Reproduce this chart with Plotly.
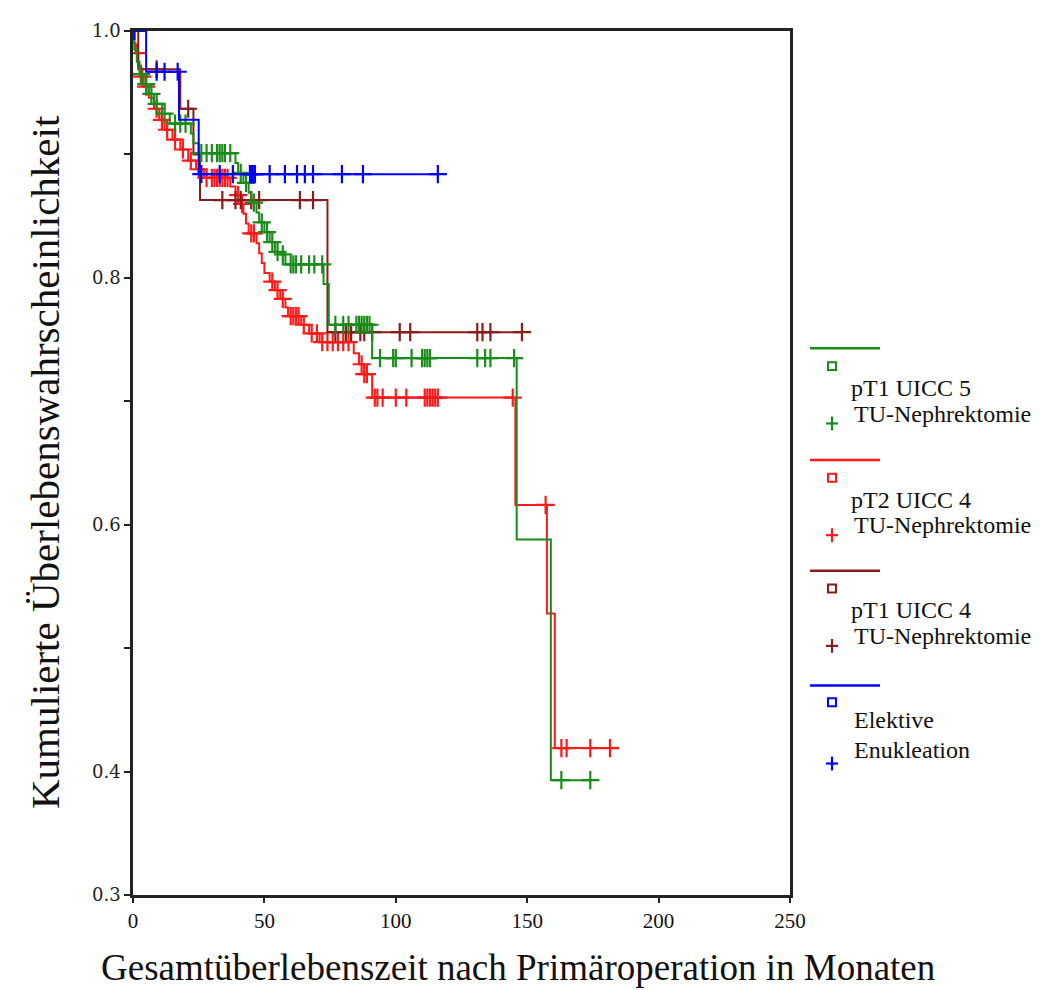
import plotly.graph_objects as go

# ---------------- data ----------------
series_names = ["pT1 UICC 5 TU-Nephrektomie", "pT2 UICC 4 TU-Nephrektomie",
                "pT1 UICC 4 TU-Nephrektomie", "Elektive Enukleation"]

green_event_t = [0.5, 1.5, 2.5, 4, 6, 8, 11, 14, 22, 23, 25, 39, 40, 42, 44, 45, 47, 48,
                 50, 52, 54, 56, 58, 72.5, 74.5, 91, 146, 159]
green_event_s = [0.985, 0.975, 0.965, 0.957, 0.949, 0.941, 0.933, 0.925, 0.917, 0.909,
                 0.901, 0.893, 0.885, 0.877, 0.869, 0.861, 0.853, 0.845, 0.837, 0.829,
                 0.821, 0.819, 0.811, 0.795, 0.762, 0.735, 0.588, 0.393]
green_censor_t = [3, 5, 7, 9, 12, 16, 18, 20, 26, 28, 30, 32, 33, 34, 35, 37, 41, 43, 46,
                  49, 51, 53, 55, 57, 60, 61, 62, 64, 67, 69, 72, 77, 80, 82, 85, 86, 87,
                  88, 89, 90, 94, 99, 100, 106, 110, 111, 112, 113, 131, 134, 136, 145,
                  163, 174]

red_event_t = [0.5, 1, 2, 3, 4, 6, 8, 10, 12, 15, 18, 21, 24, 27, 37, 39, 41, 42, 43, 44,
               47, 48, 49, 50, 52, 54, 56, 58, 59, 64, 67, 71, 84, 86, 88, 91, 145.5,
               157.5, 160.5]
red_event_s = [0.99, 0.982, 0.972, 0.963, 0.955, 0.946, 0.937, 0.928, 0.92, 0.912, 0.904,
               0.895, 0.888, 0.881, 0.874, 0.867, 0.86, 0.852, 0.844, 0.836, 0.828, 0.82,
               0.812, 0.804, 0.797, 0.79, 0.783, 0.776, 0.769, 0.762, 0.755, 0.748,
               0.739, 0.73, 0.722, 0.703, 0.616, 0.528, 0.419]
red_censor_t = [1.5, 3.5, 5, 9, 11, 13, 16, 19, 22, 25, 28, 30, 31, 32, 33, 34, 35, 36,
                40, 41.5, 45, 46, 53, 55, 57, 60, 61, 62, 63, 65, 68, 70, 72, 74, 76, 78,
                80, 82, 87, 88, 89, 92, 93, 95, 100, 104, 111, 112, 113, 114, 115, 116,
                144.5, 157, 163, 165, 174, 181.5]

dred_event_t = [2, 18, 23, 25.5, 74]
dred_event_s = [0.969, 0.937, 0.90, 0.863, 0.756]
dred_censor_t = [9, 21, 34, 39, 41, 45, 48, 63.5, 68.5, 77, 81, 83, 86.5, 88, 91, 101.5,
                 105.5, 131, 133, 136, 148]

blue_event_t = [5, 17.5, 25]
blue_event_s = [0.967, 0.928, 0.884]
blue_censor_t = [0.5, 9, 12, 17, 26, 33, 38, 44.5, 45.2, 45.8, 46.4, 52, 57.8, 62.4,
                 65.4, 68.5, 79.5, 87.5, 116]

x_ticks = [0, 50, 100, 150, 200, 250]
y_ticks = [0.3, 0.4, 0.5, 0.6, 0.7, 0.8, 0.9, 1.0]
y_tick_labels = ["0.3", "0.4", "", "0.6", "", "0.8", "", "1.0"]

legend_line1 = ["pT1 UICC 5", "pT2 UICC 4", "pT1 UICC 4", "Elektive"]
legend_line2 = ["TU-Nephrektomie", "TU-Nephrektomie", "TU-Nephrektomie", "Enukleation"]

x_title = "Gesamtüberlebenszeit nach Primäroperation in Monaten"
y_title = "Kumulierte Überlebenswahrscheinlichkeit"

colors = ["#1a8c1a", "#ff1a1a", "#8b1c1c", "#0000ff"]

# ---------------- layout geometry ----------------
OFF = 8  # page body margin in the browser
W, H = 1041 - OFF, 990 - OFF
L, R, T, B = 133 - OFF, 790 - OFF, 21 - OFF, 895 - OFF


def px2x(px):
    return (px - OFF - L) / (R - L)


def py2y(py):
    return (B - (py - OFF)) / (B - T)


def surv_at(t, ev_t, ev_s):
    s = 1.0
    for et, es in zip(ev_t, ev_s):
        if et <= t:
            s = es
    return s


fig = go.Figure()

groups = [
    (green_event_t, green_event_s, green_censor_t),
    (red_event_t, red_event_s, red_censor_t),
    (dred_event_t, dred_event_s, dred_censor_t),
    (blue_event_t, blue_event_s, blue_censor_t),
]
draw_order = [1, 2, 0, 3]
for gi in draw_order:
    ev_t, ev_s, c_t = groups[gi]
    col = colors[gi]
    t_end = max(max(c_t), max(ev_t))
    xs = [0] + list(ev_t) + [t_end]
    ys = [1.0] + list(ev_s) + [ev_s[-1]]
    fig.add_trace(go.Scatter(x=xs, y=ys, mode="lines", line=dict(color=col, width=2, shape="hv"),
                             name=series_names[gi], showlegend=False, hoverinfo="skip"))
    cy = [surv_at(t, ev_t, ev_s) for t in c_t]
    fig.add_trace(go.Scatter(x=c_t, y=cy, mode="markers",
                             marker=dict(symbol="cross-thin", size=13,
                                         line=dict(color=col, width=2.2), color=col),
                             showlegend=False, hoverinfo="skip"))

# ---------------- custom legend (outside plot area) ----------------
shapes = []
annotations = []
leg_base = [342, 455, 567, 683]
for i, base in enumerate(leg_base):
    col = colors[i]
    shapes.append(dict(type="line", xref="paper", yref="paper",
                       x0=px2x(810), x1=px2x(880), y0=py2y(base), y1=py2y(base),
                       line=dict(color=col, width=2.5)))
    sq = base + 18 if i < 3 else base + 17
    shapes.append(dict(type="rect", xref="paper", yref="paper",
                       x0=px2x(828), x1=px2x(836), y0=py2y(sq + 4), y1=py2y(sq - 4),
                       line=dict(color=col, width=2)))
    pl = base + 76 if i < 3 else base + 79
    shapes.append(dict(type="line", xref="paper", yref="paper",
                       x0=px2x(826), x1=px2x(838), y0=py2y(pl), y1=py2y(pl),
                       line=dict(color=col, width=2.2)))
    shapes.append(dict(type="line", xref="paper", yref="paper",
                       x0=px2x(832), x1=px2x(832), y0=py2y(pl - 7), y1=py2y(pl + 7),
                       line=dict(color=col, width=2.2)))
    if i < 3:
        t1y, t2y, tx1, tx2 = base + 40, base + 66, 849, 852
    else:
        t1y, t2y, tx1, tx2 = base + 35, base + 65, 852, 852
    annotations.append(dict(text=legend_line1[i], xref="paper", yref="paper",
                            x=px2x(tx1), y=py2y(t1y), xanchor="left", yanchor="middle",
                            showarrow=False, font=dict(family="Liberation Serif", size=24, color="#111")))
    annotations.append(dict(text=legend_line2[i], xref="paper", yref="paper",
                            x=px2x(tx2), y=py2y(t2y), xanchor="left", yanchor="middle",
                            showarrow=False, font=dict(family="Liberation Serif", size=24, color="#111")))

# axis titles
annotations.append(dict(text=x_title, xref="paper", yref="paper", x=px2x(518), y=py2y(968),
                        xanchor="center", yanchor="middle", showarrow=False,
                        font=dict(family="Liberation Serif", size=37, color="#111")))
annotations.append(dict(text=y_title, xref="paper", yref="paper", x=px2x(45), y=py2y(457),
                        xanchor="center", yanchor="middle", textangle=-90, showarrow=False,
                        font=dict(family="Liberation Serif", size=41, color="#111")))

fig.update_layout(
    width=W, height=H,
    margin=dict(l=L, r=W - R, t=T, b=H - B, pad=0),
    paper_bgcolor="white", plot_bgcolor="white",
    shapes=shapes, annotations=annotations,
    showlegend=False,
    xaxis=dict(range=[0, 250], tickvals=x_ticks, showgrid=False, zeroline=False,
               showline=True, linecolor="#222", linewidth=2.5, mirror=True,
               ticks="outside", ticklen=5, tickwidth=1.5, tickcolor="#222",
               tickfont=dict(family="Liberation Serif", size=21, color="#111")),
    yaxis=dict(range=[0.3, 1.0], tickvals=y_ticks, ticktext=y_tick_labels,
               showgrid=False, zeroline=False,
               showline=True, linecolor="#222", linewidth=2.5, mirror=True,
               ticks="outside", ticklen=6, tickwidth=1.5, tickcolor="#222",
               tickfont=dict(family="DejaVu Serif", size=18, color="#222")),
)

fig.write_html("out.html")
